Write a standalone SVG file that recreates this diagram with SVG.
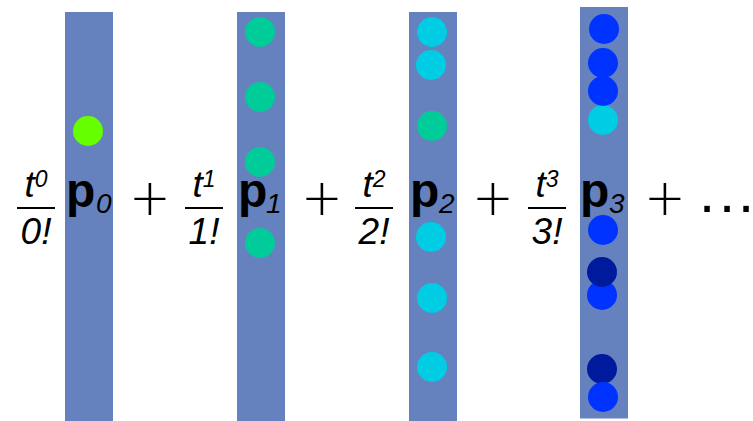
<svg xmlns="http://www.w3.org/2000/svg" width="753" height="421" viewBox="0 0 753 421">
<style>
.bar{fill:#6582BE}
.lime{fill:#66FF00}
.grn{fill:#00CC99}
.cyn{fill:#00CCE3}
.blu{fill:#0033FF}
.drk{fill:#001A9E}
.frac{font-family:"Liberation Sans",Arial,sans-serif;font-style:italic;font-size:37px;fill:#000;text-anchor:middle}
.sup{font-size:23px}
.line{stroke:#000;stroke-width:2}
.p{font-family:"Liberation Sans",Arial,sans-serif;font-weight:bold;font-size:48px;fill:#000}
.sub{font-family:"Liberation Sans",Arial,sans-serif;font-style:italic;font-size:28px;fill:#000}
.plus{font-family:Lato,"Liberation Sans",Arial,sans-serif;font-weight:300;font-size:66px;fill:#000;text-anchor:middle}
.dots{font-family:"Liberation Sans",Arial,sans-serif;font-size:58px;fill:#000;text-anchor:end}
</style>
<g id="term0">
<rect class="bar" x="65" y="12" width="48" height="409"/>
<circle class="lime" cx="88" cy="131" r="15"/>
<text class="frac" x="36" y="197">t<tspan class="sup" dy="-10">0</tspan></text>
<line class="line" x1="17" y1="208" x2="55" y2="208"/>
<text class="frac" x="36" y="244">0!</text>
<text class="p" x="66" y="207">p</text>
<text class="sub" x="96" y="213">0</text>
</g>
<g id="term1">
<rect class="bar" x="237" y="12" width="48" height="409"/>
<circle class="grn" cx="260" cy="32" r="15"/>
<circle class="grn" cx="260" cy="97" r="15"/>
<circle class="grn" cx="260" cy="162" r="15"/>
<circle class="grn" cx="260" cy="243" r="15"/>
<text class="frac" x="204" y="197">t<tspan class="sup" dy="-10">1</tspan></text>
<line class="line" x1="185" y1="208" x2="223" y2="208"/>
<text class="frac" x="204" y="244">1!</text>
<text class="p" x="238" y="207">p</text>
<text class="sub" x="266" y="213">1</text>
</g>
<g id="term2">
<rect class="bar" x="409" y="12" width="48" height="409"/>
<circle class="cyn" cx="432" cy="32" r="15"/>
<circle class="cyn" cx="431" cy="65" r="15"/>
<circle class="grn" cx="432" cy="126" r="15"/>
<circle class="cyn" cx="431" cy="237" r="15"/>
<circle class="cyn" cx="432" cy="298" r="15"/>
<circle class="cyn" cx="432" cy="367" r="15"/>
<text class="frac" x="374" y="197">t<tspan class="sup" dy="-10">2</tspan></text>
<line class="line" x1="355" y1="208" x2="393" y2="208"/>
<text class="frac" x="374" y="244">2!</text>
<text class="p" x="410" y="207">p</text>
<text class="sub" x="439" y="213" font-style="normal">2</text>
</g>
<g id="term3">
<rect class="bar" x="580" y="7" width="48" height="411.5"/>
<circle class="cyn" cx="603" cy="120" r="15"/>
<circle class="blu" cx="604" cy="29" r="15"/>
<circle class="blu" cx="603" cy="63" r="15"/>
<circle class="blu" cx="603" cy="91" r="15"/>
<circle class="blu" cx="603" cy="230" r="15"/>
<circle class="blu" cx="602" cy="295" r="15"/>
<circle class="drk" cx="602" cy="272" r="15"/>
<circle class="drk" cx="602" cy="369" r="15"/>
<circle class="blu" cx="603" cy="397" r="15"/>
<text class="frac" x="547" y="197">t<tspan class="sup" dy="-10">3</tspan></text>
<line class="line" x1="528" y1="208" x2="566" y2="208"/>
<text class="frac" x="547" y="244">3!</text>
<text class="p" x="580" y="207">p</text>
<text class="sub" x="609" y="213">3</text>
</g>
<g id="operators">
<text class="plus" x="150" y="221">+</text>
<text class="plus" x="322" y="221">+</text>
<text class="plus" x="493" y="221">+</text>
<text class="plus" x="665" y="221">+</text>
<text class="dots" x="715 735 754" y="212">...</text>
</g>
</svg>
